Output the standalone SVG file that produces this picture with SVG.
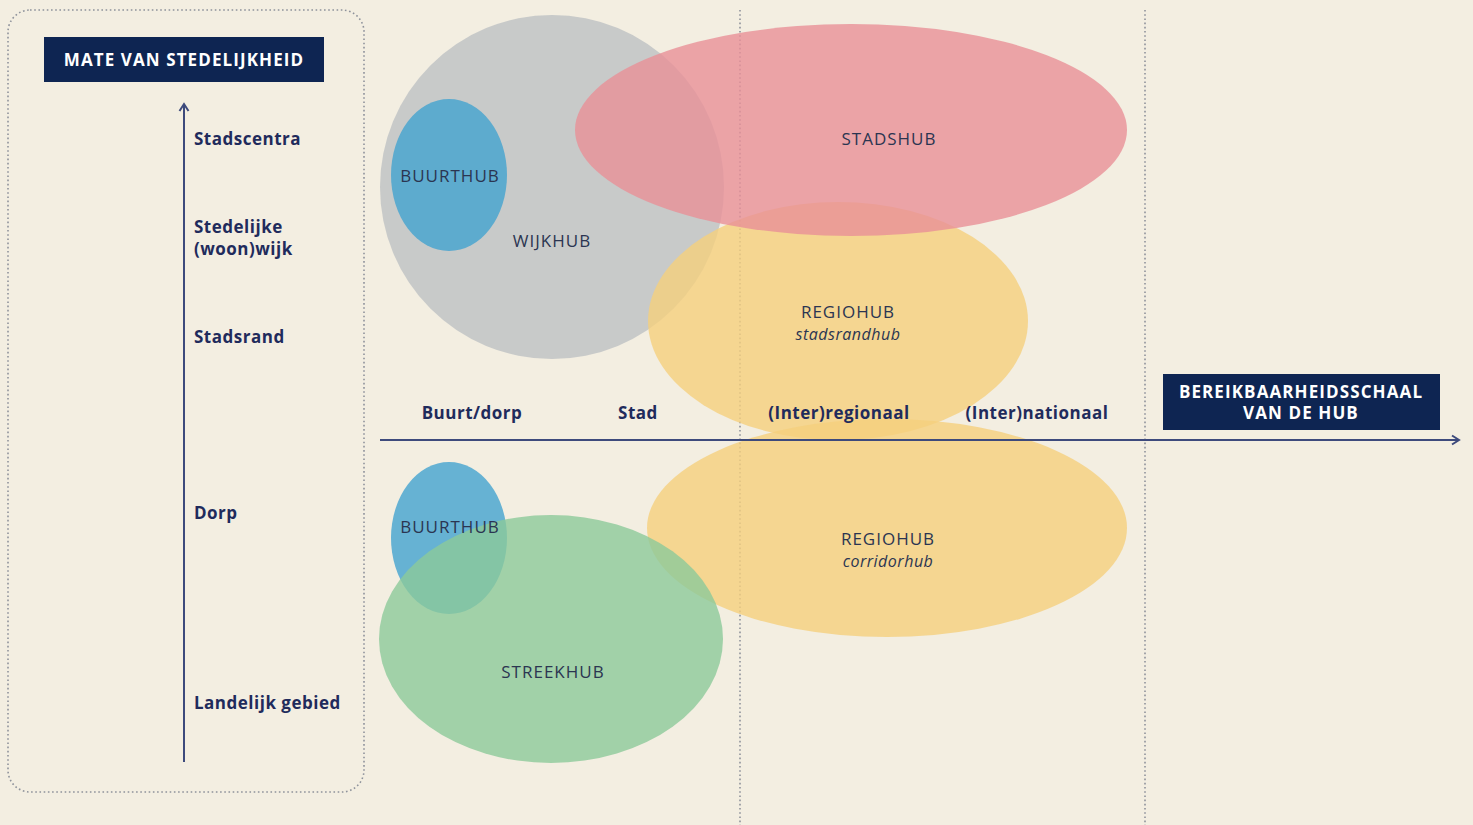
<svg xmlns="http://www.w3.org/2000/svg" width="1473" height="825" viewBox="0 0 1473 825">
<style>
.bg{fill:#f3eee1}
.dot{fill:none;stroke:#8e929b;stroke-width:1.6;stroke-dasharray:1.6 2.6}
.axis{fill:none;stroke:#3d4a7c;stroke-width:2}
.box{fill:#0e2552}
.boxt{font-family:"Open Sans","Liberation Sans",sans-serif;font-weight:700;font-size:17px;letter-spacing:1.1px;fill:#ffffff;text-anchor:middle}
.lbl{font-family:"Open Sans","Liberation Sans",sans-serif;font-weight:700;font-size:17px;letter-spacing:0.5px;fill:#1f2b5c}
.lblc{font-family:"Open Sans","Liberation Sans",sans-serif;font-weight:700;font-size:17px;letter-spacing:0.5px;fill:#1f2b5c;text-anchor:middle}
.hub{font-family:"Open Sans","Liberation Sans",sans-serif;font-size:17px;fill:#2b3551;text-anchor:middle;letter-spacing:1px}
.sub{font-family:"Open Sans","Liberation Sans",sans-serif;font-size:16px;font-style:italic;fill:#2b3551;text-anchor:middle;letter-spacing:0.5px}
.e{opacity:0.8}
</style>
<defs>
<marker id="open" viewBox="0 0 12 12" refX="10" refY="6" markerWidth="12" markerHeight="12" markerUnits="userSpaceOnUse" orient="auto">
<path d="M3,1.5 L10,6 L3,10.5" fill="none" stroke="#3d4a7c" stroke-width="2"/>
</marker>
</defs>
<rect class="bg" x="0" y="0" width="1473" height="825"/>

<g id="legend-panel">
<rect class="dot" x="8" y="10" width="356" height="782" rx="22"/>
<rect class="box" x="44" y="37" width="280" height="45"/>
<text class="boxt" x="184" y="66">MATE VAN STEDELIJKHEID</text>
</g>

<g id="grid">
<line class="dot" x1="740" y1="10" x2="740" y2="825"/>
<line class="dot" x1="1145" y1="10" x2="1145" y2="825"/>
</g>

<g id="hubs">
<g id="wijkhub"><ellipse class="e" cx="552" cy="187" rx="172" ry="172" fill="#bdc1c3"/></g>
<g id="buurthub-top"><ellipse class="e" cx="449" cy="175" rx="58" ry="76" fill="#42a3cf"/></g>
<g id="regiohub-stadsrand"><ellipse class="e" cx="838" cy="321" rx="190" ry="119" fill="#f5d07d"/></g>
<g id="stadshub"><ellipse class="e" cx="851" cy="130" rx="276" ry="106" fill="#e99097"/></g>
<g id="regiohub-corridor"><ellipse class="e" cx="887" cy="528" rx="240" ry="109" fill="#f5d07d"/></g>
<g id="buurthub-bottom"><ellipse class="e" cx="449" cy="538" rx="58" ry="76" fill="#42a3cf"/></g>
<g id="streekhub"><ellipse class="e" cx="551" cy="639" rx="172" ry="124" fill="#8cc99a"/></g>
</g>

<g id="connectors">
<line class="axis" x1="184" y1="762" x2="184" y2="104" marker-end="url(#open)"/>
<line class="axis" x1="380" y1="440" x2="1459" y2="440" marker-end="url(#open)"/>
</g>

<g id="hub-labels">
<text class="hub" x="450" y="182">BUURTHUB</text>
<text class="hub" x="552" y="247">WIJKHUB</text>
<text class="hub" x="889" y="145">STADSHUB</text>
<text class="hub" x="848" y="318">REGIOHUB</text>
<text class="sub" x="848" y="340">stadsrandhub</text>
<text class="hub" x="888" y="545">REGIOHUB</text>
<text class="sub" x="888" y="567">corridorhub</text>
<text class="hub" x="450" y="533">BUURTHUB</text>
<text class="hub" x="553" y="678">STREEKHUB</text>
</g>

<g id="y-labels">
<text class="lbl" x="194" y="145">Stadscentra</text>
<text class="lbl" x="194" y="233">Stedelijke</text>
<text class="lbl" x="194" y="255">(woon)wijk</text>
<text class="lbl" x="194" y="343">Stadsrand</text>
<text class="lbl" x="194" y="519">Dorp</text>
<text class="lbl" x="194" y="709">Landelijk gebied</text>
</g>

<g id="x-labels">
<text class="lblc" x="472" y="419">Buurt/dorp</text>
<text class="lblc" x="638" y="419">Stad</text>
<text class="lblc" x="839" y="419">(Inter)regionaal</text>
<text class="lblc" x="1037" y="419">(Inter)nationaal</text>
</g>

<g id="x-title">
<rect class="box" x="1163" y="374" width="277" height="56"/>
<text class="boxt" x="1301" y="398">BEREIKBAARHEIDSSCHAAL</text>
<text class="boxt" x="1301" y="419">VAN DE HUB</text>
</g>
</svg>
